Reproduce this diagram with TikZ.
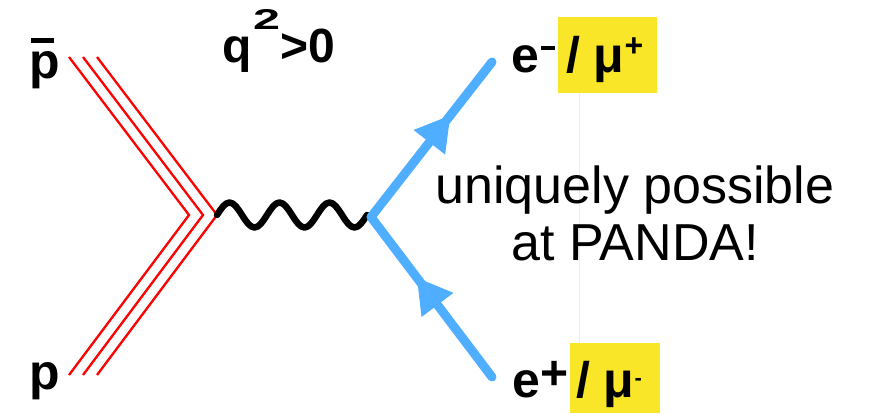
\documentclass[tikz,border=0pt]{standalone}
\usepackage{fontspec}
\setmainfont{Liberation Sans}
\usetikzlibrary{calc}

\definecolor{hadronred}{RGB}{255,0,0}
\definecolor{leptonblue}{RGB}{79,174,255}
\definecolor{markyellow}{RGB}{250,230,40}

\tikzset{
  hadron/.style={draw=hadronred, line width=2.3pt},
  photon/.style={draw=black, line width=6.5pt, line cap=round, line join=round},
  lepton/.style={draw=leptonblue, line width=9pt, line cap=round, line join=round},
  arrowhead/.style={fill=leptonblue},
  lbl/.style={inner sep=0pt, font={\fontsize{50}{56}\selectfont\bfseries}},
  hilite/.style={fill=markyellow, inner sep=0pt, anchor=north west},
  note/.style={inner sep=0pt, align=center, font={\fontsize{52}{57}\selectfont}}
}

\begin{document}
\begin{tikzpicture}[x=1pt, y=-1pt]
  \useasboundingbox (0,0) rectangle (869,413);

  % faint guide between the two highlight boxes
  \coordinate (gtop) at (579,93);
  \coordinate (gbot) at (579,343);
  \draw[black!7, line width=1pt] (gtop) -- (gbot);

  % highlight boxes
  \node[hilite, minimum width=99pt, minimum height=76pt] (ytop) at (558,17) {};
  \node[hilite, minimum width=90pt, minimum height=70pt] (ybot) at (570,343) {};

  % incoming proton / antiproton (triple lines)
  \coordinate (pbarend) at (69,57);
  \coordinate (vin) at (189,215);
  \coordinate (pend) at (69,375);
  \foreach \s in {0,14,28}{
    \draw[hadron] ([xshift=\s pt]pbarend) -- ([xshift=\s pt]vin) -- ([xshift=\s pt]pend);
  }

  % virtual photon: three full sine periods
  \coordinate (gL) at (217,215);
  \draw[photon] (gL)
    \foreach \k in {1,2,3}{
      sin ++(12.5,-12.5) cos ++(12.5,12.5) sin ++(12.5,12.5) cos ++(12.5,-12.5)
    } coordinate (gR);

  % outgoing leptons
  \coordinate (vout) at (371,217);
  \coordinate (lminus) at (492,62);
  \coordinate (lplus) at (492,377);
  \draw[lepton] (lminus) -- (vout) -- (lplus);

  % arrowheads
  \coordinate (t1) at ($(vout)!0.655!(lminus)$);
  \coordinate (b1) at ($(t1)!34pt!(vout)$);
  \fill[arrowhead] (t1) -- ($(b1)!20pt!90:(t1)$) -- ($(b1)!20pt!-90:(t1)$) -- cycle;
  \coordinate (t2) at ($(lplus)!0.62!(vout)$);
  \coordinate (b2) at ($(t2)!34pt!(lplus)$);
  \fill[arrowhead] (t2) -- ($(b2)!20pt!90:(t2)$) -- ($(b2)!20pt!-90:(t2)$) -- cycle;

  % particle labels
  \node[lbl, anchor=base west] (pbar) at (29,78)
    {\vbox{\offinterlineskip\hbox{\kern2pt\vrule width 23pt height 5pt}\kern8pt\hbox{p}}};
  \node[lbl, anchor=base west] (p) at (29,389) {p};
  \node[lbl, anchor=base west, font={\fontsize{48}{54}\selectfont\bfseries}] (qsq) at (222,62)
    {q\kern1.5pt\raisebox{33pt}{\resizebox{27pt}{20pt}{2}}\kern0.5pt>0};

  \node[lbl, anchor=base west] (eminus) at (511,72)
    {e\raisebox{22pt}{\kern2pt\vrule width 14pt height 4pt}};
  \node[lbl, anchor=base west] (muplus) at (566,72)
    {/ μ\raisebox{16pt}{\fontsize{32}{32}\selectfont +}};
  \node[lbl, anchor=base west] (eplus) at (512,397)
    {e\raisebox{8pt}{\fontsize{48}{48}\selectfont +}};
  \node[lbl, anchor=base west] (muminus) at (576,397)
    {/ μ\raisebox{12pt}{\fontsize{22}{22}\selectfont -}};

  % comment text
  \node[note] (claim) at (635,213) {uniquely possible\\at PANDA!};
\end{tikzpicture}
\end{document}
